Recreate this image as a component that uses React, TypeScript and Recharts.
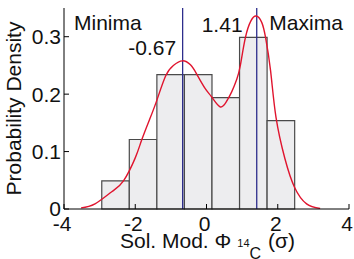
import React from 'react';
import {
  ComposedChart,
  Line,
  XAxis,
  YAxis,
  ReferenceArea,
  ReferenceLine,
  ReferenceDot,
  Label,
} from 'recharts';

// Histogram of the solar modulation anomaly (bin edges and densities)
const binEdges = [-2.94, -2.167, -1.393, -0.62, 0.154, 0.928, 1.701, 2.475];
const binDensity = [0.049, 0.121, 0.234, 0.234, 0.194, 0.299, 0.154];

// Kernel density estimate sampled along the x axis
const kdeX = [
  -3.52, -3.13, -2.66, -2.33, -2.0, -1.82, -1.59, -1.39, -1.145, -0.93, -0.68,
  -0.45, -0.275, -0.04, 0.146, 0.379, 0.55, 0.707, 0.85, 0.95, 1.09, 1.25, 1.4,
  1.55, 1.66, 1.8, 1.95, 2.2, 2.47, 2.81, 3.19,
];
const kdeY = [
  0.002, 0.009, 0.03, 0.049, 0.089, 0.12, 0.157, 0.19, 0.232, 0.25, 0.258,
  0.251, 0.235, 0.21, 0.195, 0.178, 0.186, 0.204, 0.226, 0.25, 0.298, 0.328, 0.336,
  0.325, 0.298, 0.24, 0.16, 0.088, 0.038, 0.009, 0.001,
];

// Locations of the two density peaks
const extremaX = [-0.67, 1.41];

const xTicks = [-4, -2, 0, 2, 4];
const yTicks = [0, 0.1, 0.2, 0.3];

const curve = kdeX.map((x, i) => ({ x, y: kdeY[i] }));

const FONT = '"Liberation Sans", Arial, Helvetica, sans-serif';
const TEXT = '#111';

// Text annotations placed in data coordinates (baseline-left anchored)
const annotations = [
  { text: 'Minima', x: -3.72, y: 0.312 },
  { text: extremaX[0].toFixed(2), x: -2.195, y: 0.268 },
  { text: extremaX[1].toFixed(2), x: -0.135, y: 0.309 },
  { text: 'Maxima', x: 1.763, y: 0.312 },
];

const annotationContent = (text: string) => (props: any) => {
  const { viewBox } = props;
  return (
    <text x={viewBox.x} y={viewBox.y} fontSize={21} fill={TEXT} fontFamily={FONT}>
      {text}
    </text>
  );
};

const XTitle = (props: any) => {
  const { viewBox } = props;
  return (
    <text x={viewBox.x + 56} y={viewBox.y + 39} fontSize={21} fill={TEXT} fontFamily={FONT}>
      Sol. Mod. Φ
      <tspan fontSize={11} dx={6} dy={-1}>14</tspan>
      <tspan fontSize={16} dy={12}>C</tspan>
      <tspan fontSize={21} dx={7} dy={-11}>(σ)</tspan>
    </text>
  );
};

const YTitle = (props: any) => {
  const { viewBox } = props;
  const cx = viewBox.x + 21;
  const cy = viewBox.y + viewBox.height / 2;
  return (
    <text
      x={cx}
      y={cy}
      fontSize={21}
      fill={TEXT}
      fontFamily={FONT}
      textAnchor="middle"
      transform={`rotate(-90, ${cx}, ${cy})`}
    >
      Probability Density
    </text>
  );
};

export default function App() {
  return (
    <div style={{ position: 'absolute', left: 0, top: 0, background: '#fff' }}>
      <ComposedChart
        width={354}
        height={259}
        data={curve}
        margin={{ top: 8, right: 5, bottom: 0, left: 0 }}
        style={{ fontFamily: FONT }}
      >
        <XAxis
          dataKey="x"
          type="number"
          domain={[-4, 4]}
          ticks={xTicks}
          allowDataOverflow
          height={50}
          stroke="#000"
          tickSize={-5}
          tickMargin={12}
          tick={{ fill: TEXT, fontSize: 21, dx: -2 }}
          interval={0}
        >
          <Label content={XTitle} />
        </XAxis>
        <XAxis
          xAxisId="top"
          orientation="top"
          type="number"
          domain={[-4, 4]}
          ticks={xTicks}
          allowDataOverflow
          height={0}
          stroke="#000"
          tickSize={-5}
          tick={false}
        />
        <YAxis
          type="number"
          domain={[0, 0.35]}
          ticks={yTicks}
          allowDataOverflow
          width={64}
          stroke="#000"
          tickSize={-5}
          tickMargin={8}
          tick={{ fill: TEXT, fontSize: 21 }}
          interval={0}
        >
          <Label content={YTitle} />
        </YAxis>
        <YAxis
          yAxisId="right"
          orientation="right"
          type="number"
          domain={[0, 0.35]}
          ticks={yTicks}
          allowDataOverflow
          width={0}
          stroke="#000"
          tickSize={-5}
          tick={false}
        />

        {binDensity.map((d, i) => (
          <ReferenceArea
            key={`bin-${i}`}
            x1={binEdges[i]}
            x2={binEdges[i + 1]}
            y1={0}
            y2={d}
            fill="#ededef"
            fillOpacity={1}
            stroke="#4a4a4a"
            strokeWidth={1.2}
          />
        ))}

        {extremaX.map((x) => (
          <ReferenceLine key={`ext-${x}`} x={x} stroke="#2e2e8c" strokeWidth={1.3} />
        ))}

        <Line
          type="natural"
          dataKey="y"
          stroke="#e0142e"
          strokeWidth={1.4}
          dot={false}
          isAnimationActive={false}
        />

        {annotations.map((a) => (
          <ReferenceDot
            key={a.text}
            x={a.x}
            y={a.y}
            r={0}
            fill="none"
            stroke="none"
            label={{ content: annotationContent(a.text) }}
          />
        ))}
      </ComposedChart>
    </div>
  );
}
